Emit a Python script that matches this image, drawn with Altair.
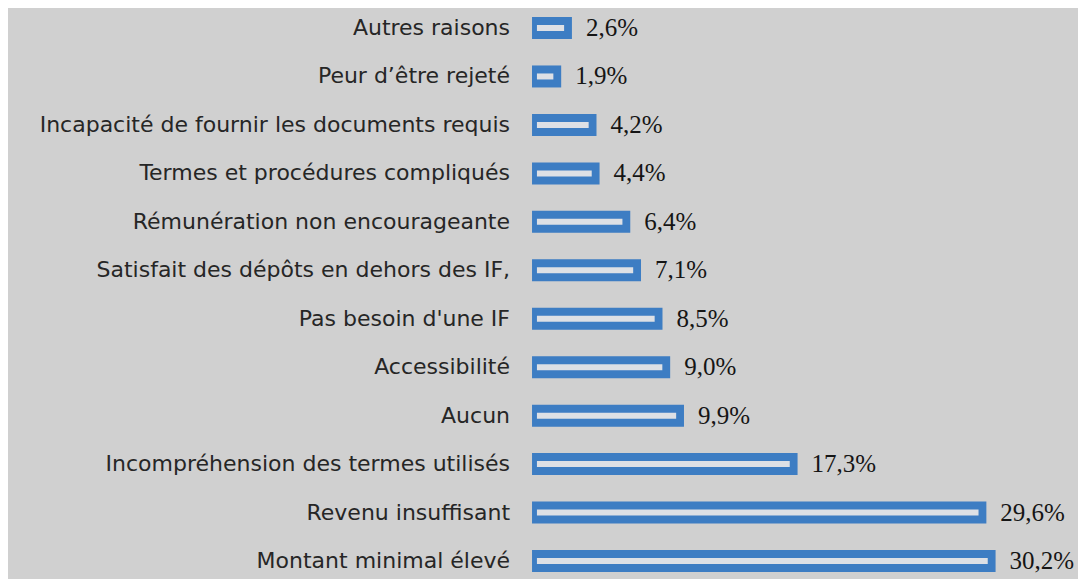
import altair as alt
import pandas as pd

categories = [
    "Autres raisons",
    "Peur d’être rejeté",
    "Incapacité de fournir les documents requis",
    "Termes et procédures compliqués",
    "Rémunération non encourageante",
    "Satisfait des dépôts en dehors des IF,",
    "Pas besoin d'une IF",
    "Accessibilité",
    "Aucun",
    "Incompréhension des termes utilisés",
    "Revenu insuffisant",
    "Montant minimal élevé",
]
values = [2.6, 1.9, 4.2, 4.4, 6.4, 7.1, 8.5, 9.0, 9.9, 17.3, 29.6, 30.2]

df = pd.DataFrame({
    "cat": categories,
    "value": values,
    "row": list(range(len(categories))),
    "label": [f"{v:.1f}".replace(".", ",") + "%" for v in values],
})

BLUE = "#3d7dc3"
INNER = "#dde0e5"
BG = "#d0d0d0"

xs = alt.Scale(domain=[-34.14, 35.57], zero=False, nice=False)
ys = alt.Scale(domain=[-0.413, 11.371], zero=False, nice=False, reverse=True)

base = alt.Chart(df)
Y = alt.Y("row:Q", scale=ys, axis=None)

outer = base.mark_rule(color=BLUE, strokeWidth=22, strokeCap="butt").encode(
    x=alt.X("zero:Q", scale=xs, axis=None),
    x2="value:Q",
    y=Y,
).transform_calculate(zero="0")

inner = base.mark_rule(color=INNER, strokeWidth=6, strokeCap="butt").encode(
    x=alt.X("a:Q", scale=xs, axis=None),
    x2="b:Q",
    y=Y,
).transform_calculate(a="0.32", b="datum.value - 0.51")

cats = base.mark_text(
    align="right", baseline="middle", dx=-22, font="DejaVu Sans", fontSize=22, color="#262626"
).encode(
    x=alt.X("zero:Q", scale=xs, axis=None),
    y=Y,
    text="cat:N",
).transform_calculate(zero="0")

vals = base.mark_text(
    align="left", baseline="middle", dx=14, font="Liberation Serif", fontSize=25, color="#151515"
).encode(
    x=alt.X("value:Q", scale=xs, axis=None),
    y=Y,
    text="label:N",
)

chart = alt.layer(outer, inner, cats, vals).properties(
    width=1070, height=571, background=BG, padding=0,
    autosize=alt.AutoSizeParams(type="none"),
).configure_view(stroke=None)

chart.save("out.html", embed_options={"renderer": "svg", "actions": False})
